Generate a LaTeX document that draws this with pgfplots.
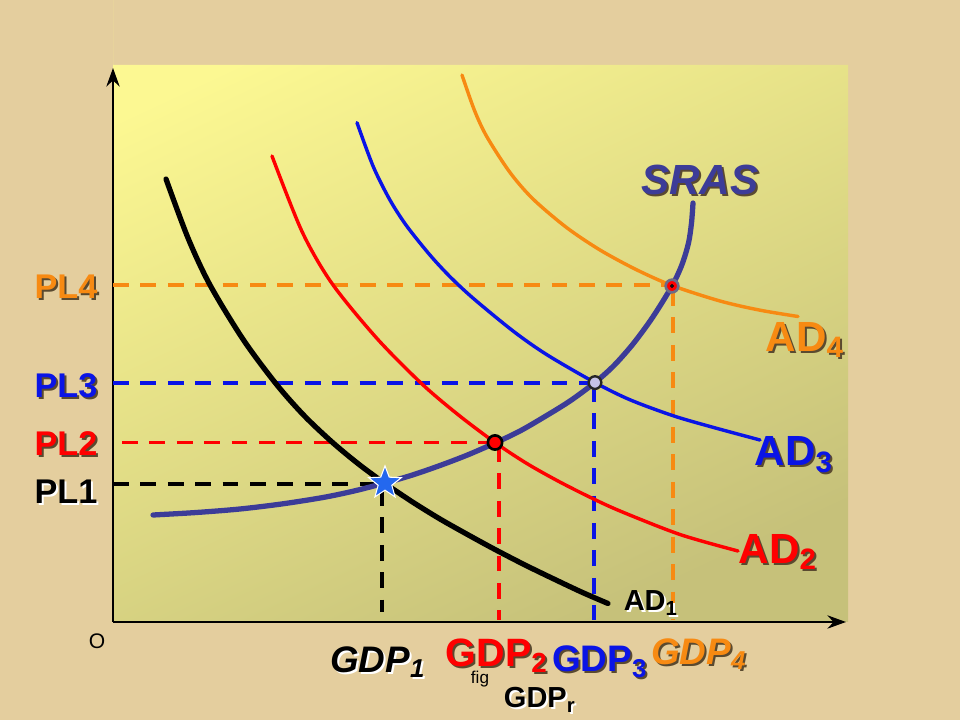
\documentclass[border=0pt]{standalone}
\usepackage{fontspec}
\setmainfont{Liberation Sans}
\usepackage{pgfplots}
\pgfplotsset{compat=1.18}
\usetikzlibrary{arrows.meta}

\definecolor{parch}{HTML}{E4CE9E}
\definecolor{ptop}{HTML}{FCF892}
\definecolor{pbot}{HTML}{C6C17A}
\definecolor{cOr}{HTML}{F78A12}
\definecolor{cRd}{HTML}{FF0000}
\definecolor{cBl}{HTML}{0A14E6}
\definecolor{cSr}{HTML}{3C3C98}
\definecolor{cSh}{HTML}{5A4A30}
\definecolor{cStar}{HTML}{2468EE}

% label with a drop shadow: x, y, colour, shadow colour, text
\newcommand\lbl[5]{%
  \node[text=#4] at (axis cs:#1+2,#2+2) {#5};
  \node[text=#3] at (axis cs:#1,#2) {#5};}
\newcommand\fs[1]{\fontsize{#1}{#1}\selectfont\bfseries}

\pgfdeclareplotmark{fstar}{%
  \pgfpathmoveto{\pgfpointpolar{90}{\pgfplotmarksize}}%
  \pgfpathlineto{\pgfpointpolar{126}{0.42\pgfplotmarksize}}%
  \pgfpathlineto{\pgfpointpolar{162}{\pgfplotmarksize}}%
  \pgfpathlineto{\pgfpointpolar{198}{0.42\pgfplotmarksize}}%
  \pgfpathlineto{\pgfpointpolar{234}{\pgfplotmarksize}}%
  \pgfpathlineto{\pgfpointpolar{270}{0.42\pgfplotmarksize}}%
  \pgfpathlineto{\pgfpointpolar{306}{\pgfplotmarksize}}%
  \pgfpathlineto{\pgfpointpolar{342}{0.42\pgfplotmarksize}}%
  \pgfpathlineto{\pgfpointpolar{18}{\pgfplotmarksize}}%
  \pgfpathlineto{\pgfpointpolar{54}{0.42\pgfplotmarksize}}%
  \pgfpathclose\pgfusepathqfillstroke}

\tikzset{dsh/.style={line width=1.5pt, dash pattern=on 6pt off 4.4pt}}

\begin{document}
\begin{tikzpicture}
\begin{axis}[
  scale only axis, width=12.8cm, height=9.6cm,
  xmin=0, xmax=960, ymin=0, ymax=720, y dir=reverse,
  hide axis, clip=false,
]
% background and panel
\addplot[draw=none, fill=parch] coordinates {(0,0)(960,0)(960,720)(0,720)} \closedcycle;
\addplot[draw=none, top color=ptop, bottom color=pbot, shading angle=25] coordinates {(113,65)(848,65)(848,622)(113,622)} \closedcycle;

% axes
\addplot[black, line width=1.1pt, -{Stealth[length=7pt,width=5pt]}] coordinates {(113,622)(113,68)};
\addplot[black, line width=1.1pt, -{Stealth[length=7pt,width=5pt]}] coordinates {(113,622)(846,622)};

% dashed guides
\addplot[dsh, cOr] coordinates {(113,285)(672,285)};
\addplot[dsh, cOr] coordinates {(673,290)(673,620)};
\addplot[dsh, cBl] coordinates {(113,382.6)(595,382.6)};
\addplot[dsh, cBl] coordinates {(594,386)(594,620)};
\addplot[dsh, cRd] coordinates {(122,442.5)(495,442.5)};
\addplot[dsh, cRd] coordinates {(499,446)(499,620)};
\addplot[dsh, black] coordinates {(113,484)(385,484)};
\addplot[dsh, black] coordinates {(382,490)(382,612)};

% demand curves
\addplot[black, line width=2pt, smooth, line cap=round] coordinates {
  (166,179)(188,238)(210,285)(243.5,340)(277,385)(304.5,416)(332,442)(358.5,464)
  (385,483.5)(412.5,502)(440,519)(467.5,534.5)(495,549.5)(526,565.5)(557,580.5)(582.5,592.5)(608,603.5)};
\addplot[cRd, line width=1.3pt, smooth, line cap=round] coordinates {
  (272,156)(302,231.5)(332,283.5)(377,338.5)(422,384)(458.5,415)(495,442.5)(526,463)
  (557,480.5)(588.5,496.5)(620,511)(680,534.5)(738,551)};
\addplot[cBl, line width=1.3pt, smooth, line cap=round] coordinates {
  (357,122.7)(373.3,166.7)(390,200.1)(406.7,226)(430,255.1)(450,276.7)(473.3,298.4)
  (513.3,331.2)(546.7,354.6)(595,382.6)(630,399.8)(673.3,415.8)(713.3,427.4)(760,440)};
\addplot[cOr, line width=1.3pt, smooth, line cap=round] coordinates {
  (462,75)(474.5,110.5)(487,137)(510,172.5)(533,199)(566.5,227.5)(600,250)(636,269.5)
  (672,285.5)(720,301)(759,310)(798,316.5)};

% SRAS
\addplot[cSr, line width=2pt, smooth, line cap=round] coordinates {
  (153,515)(196.5,512.5)(240,509)(281.5,504)(323,497.5)(354,491)(385,483)(412.5,475)
  (440,465.5)(467.5,455)(495,443)(520,431)(545,416.5)(570,401)(595,382.5)(614,365.5)
  (633,344)(652.5,317.5)(672,286)(682,264.5)(688.5,243)(691.5,223)(693,203)};

% equilibrium markers
\addplot[only marks, mark=fstar, mark size=6.5pt, mark options={fill=cStar, draw=white, line width=0.4pt}] coordinates {(385,483)};
\addplot[only marks, mark=*, mark size=2.7pt, mark options={fill=cRd, draw=black, line width=1pt}] coordinates {(495,442.5)};
\addplot[only marks, mark=*, mark size=2.4pt, mark options={fill=cyan!15!blue!22!white, draw=black!85, line width=0.9pt}] coordinates {(595,382.6)};
\addplot[only marks, mark=*, mark size=2.4pt, mark options={fill=cRd, draw=gray!70!cSr, line width=1pt}] coordinates {(672,286)};
\addplot[only marks, mark=*, mark size=0.5pt, mark options={fill=cyan!60!white, draw=none}] coordinates {(672,286)};

% price level labels
\lbl{66}{287}{cOr}{cSh}{\fs{13}PL4}
\lbl{66}{386}{cBl}{cSh}{\fs{13}PL3}
\lbl{66}{444}{cRd}{cSh}{\fs{13}PL2}
\lbl{66}{492}{black}{white}{\fs{13}PL1}

% curve labels
\lbl{700}{180}{cSr}{cSh}{\fs{16}\itshape SRAS}
\lbl{805}{340}{cOr}{cSh}{\fs{16}AD\textsubscript{4}}
\lbl{794}{455}{cBl}{cSh}{\fs{16}AD\textsubscript{3}}
\lbl{778}{552}{cRd}{cSh}{\fs{16}AD\textsubscript{2}}
\lbl{651}{603}{black}{white}{\fs{11}AD\textsubscript{1}}

% GDP labels
\lbl{378}{662}{black}{white}{\fs{14}\itshape GDP\textsubscript{1}}
\lbl{497}{656}{cRd}{cSh}{\fs{15}GDP\textsubscript{2}}
\lbl{600}{662}{cBl}{cSh}{\fs{14}GDP\textsubscript{3}}
\lbl{699}{654}{cOr}{cSh}{\fs{14}\itshape GDP\textsubscript{4}}
\node at (axis cs:480,679) {\fontsize{6.5}{7}\selectfont fig};
\lbl{540}{700}{black}{white}{\fs{11}GDP\textsubscript{r}}
\node at (axis cs:97,641) {\fontsize{8}{8}\selectfont O};
\end{axis}
\end{tikzpicture}
\end{document}
